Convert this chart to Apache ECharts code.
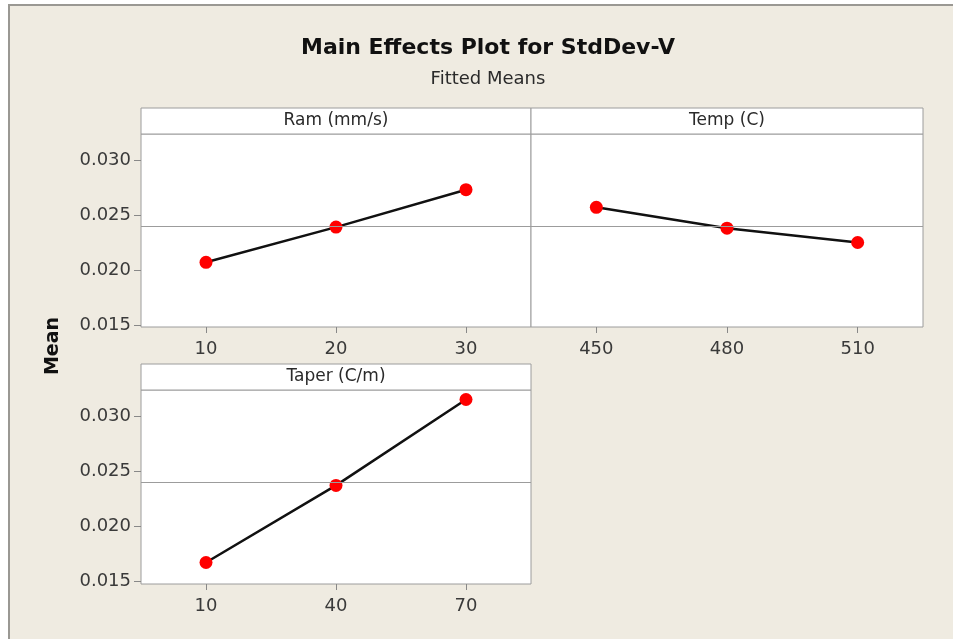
<!DOCTYPE html>
<html>
<head>
<meta charset="utf-8">
<title>Main Effects Plot for StdDev-V</title>
<script src="https://cdn.jsdelivr.net/npm/echarts@6/dist/echarts.min.js"></script>
<style>
  html, body { margin: 0; padding: 0; background: #fff; }
  #chart { width: 953px; height: 639px; }
</style>
</head>
<body>
<div id="chart"></div>
<script>
// fitted means
const ramLevels = [10, 20, 30];
const ramMeans = [0.0207, 0.0239, 0.0273];
const tempLevels = [450, 480, 510];
const tempMeans = [0.0257, 0.0238, 0.0225];
const taperLevels = [10, 40, 70];
const taperMeans = [0.0167, 0.0237, 0.0315];
const grandMean = 0.0240;
const yTicks = [0.015, 0.020, 0.025, 0.030];
const panelNames = ['Ram (mm/s)', 'Temp (C)', 'Taper (C/m)'];

const FONT = 'DejaVu Sans';
const GRAY = '#9c9c9c';
const myChart = echarts.init(document.getElementById('chart'));

function pairs(xs, ys) {
  return xs.map(function (x, i) { return [x, ys[i]]; });
}

// x axis for each panel
function xAxisOf(idx, levels, min, max) {
  return {
    type: 'value',
    gridIndex: idx,
    min: min,
    max: max,
    axisLine: { show: false, onZero: false },
    splitLine: { show: false },
    axisTick: { show: true, length: 6, customValues: levels, lineStyle: { color: '#888' } },
    axisLabel: { customValues: levels, color: '#3a3a3a', fontSize: 18, fontFamily: FONT, margin: 13 }
  };
}

// y axis, labels only on the left panels
function yAxisOf(idx, min, showLabels) {
  return {
    type: 'value',
    gridIndex: idx,
    min: min,
    max: 0.03236,
    axisLine: { show: false, onZero: false },
    splitLine: { show: false },
    axisTick: { show: showLabels, length: 7, customValues: yTicks, lineStyle: { color: '#888' } },
    axisLabel: {
      show: showLabels,
      customValues: yTicks,
      color: '#3a3a3a',
      fontSize: 18,
      fontFamily: FONT,
      margin: 10,
      formatter: function (v) { return v.toFixed(3); }
    }
  };
}

function seriesOf(idx, data) {
  return {
    type: 'line',
    xAxisIndex: idx,
    yAxisIndex: idx,
    data: data,
    symbol: 'circle',
    symbolSize: 13,
    itemStyle: { color: '#ff0000' },
    lineStyle: { color: '#111', width: 2.5 },
    markLine: {
      silent: true,
      symbol: 'none',
      precision: 5,
      label: { show: false },
      lineStyle: { color: GRAY, type: 'solid', width: 1 },
      data: [{ yAxis: grandMean }]
    },
    z: 3
  };
}

// header strip above a panel
function header(x, y, w, text) {
  return {
    type: 'group',
    children: [
      { type: 'rect', shape: { x: x, y: y, width: w, height: 26 },
        style: { fill: '#fff', stroke: GRAY, lineWidth: 1 } },
      { type: 'text', style: { text: text, x: x + w / 2, y: y + 13, align: 'center', verticalAlign: 'middle',
        fontSize: 17, fontFamily: FONT, fill: '#2a2a2a' } }
    ]
  };
}

const gridBox = { show: true, backgroundColor: '#fff', borderColor: GRAY, borderWidth: 1, containLabel: false };

const options = {
  animation: false,
  backgroundColor: '#fff',
  grid: [
    Object.assign({ left: 141, top: 134, width: 390, height: 193 }, gridBox),
    Object.assign({ left: 531, top: 134, width: 392, height: 193 }, gridBox),
    Object.assign({ left: 141, top: 390, width: 390, height: 194 }, gridBox)
  ],
  xAxis: [
    xAxisOf(0, ramLevels, 5, 35),
    xAxisOf(1, tempLevels, 435, 525),
    xAxisOf(2, taperLevels, -5, 85)
  ],
  yAxis: [
    yAxisOf(0, 0.01482, true),
    yAxisOf(1, 0.01482, false),
    yAxisOf(2, 0.01475, true)
  ],
  series: [
    seriesOf(0, pairs(ramLevels, ramMeans)),
    seriesOf(1, pairs(tempLevels, tempMeans)),
    seriesOf(2, pairs(taperLevels, taperMeans))
  ],
  graphic: [
    // outer frame
    { type: 'rect', z: -10, silent: true, shape: { x: 9, y: 5, width: 1000, height: 1000 },
      style: { fill: '#efebe1', stroke: '#9a9893', lineWidth: 2 } },
    { type: 'text', style: { text: 'Main Effects Plot for StdDev-V', x: 488, y: 48, align: 'center', verticalAlign: 'middle',
      fontSize: 22, fontWeight: 'bold', fontFamily: FONT, fill: '#111' } },
    { type: 'text', style: { text: 'Fitted Means', x: 488, y: 79, align: 'center', verticalAlign: 'middle',
      fontSize: 18, fontFamily: FONT, fill: '#2a2a2a' } },
    { type: 'text', rotation: Math.PI / 2, x: 53, y: 346,
      style: { text: 'Mean', x: 0, y: 0, align: 'center', verticalAlign: 'middle',
        fontSize: 19, fontWeight: 'bold', fontFamily: FONT, fill: '#111' } },
    header(141, 108, 390, panelNames[0]),
    header(531, 108, 392, panelNames[1]),
    header(141, 364, 390, panelNames[2])
  ]
};

myChart.setOption(options, true);
window.addEventListener('resize', function () {
  myChart.resize();
});
</script>
</body>
</html>
